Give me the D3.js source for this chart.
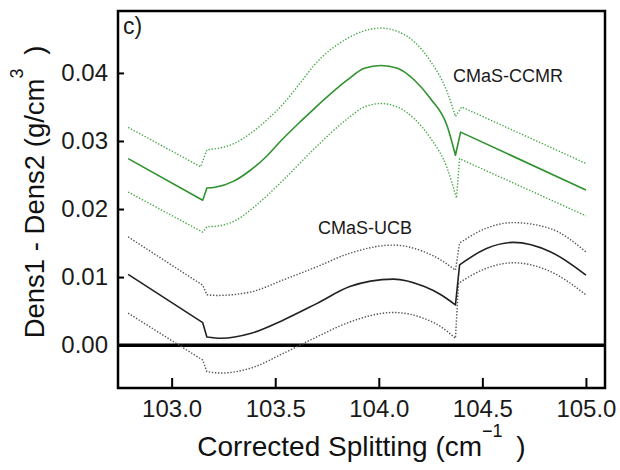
<!DOCTYPE html>
<html>
<head>
  <meta charset="UTF-8">
  <style>
  body { margin:0; background:#fff; }
  text { font-family:"Liberation Sans",Arial,sans-serif; }
  </style>
</head>
<body>
  <div id="chart"></div>
  <script src="https://d3js.org/d3.v7.min.js"></script>
  <script>
    // x positions + values, per series
    var ccmrX   = [102.79, 103.15, 103.17, 103.21, 103.30, 103.38, 103.46, 103.53, 103.62, 103.69, 103.85, 103.93, 104.01, 104.09, 104.17, 104.25, 104.33, 104.37, 104.395, 105.0];
    var ccmrMid = [0.0274, 0.0213, 0.0231, 0.0232, 0.0241, 0.0257, 0.0278, 0.0301, 0.0328, 0.0348, 0.0390, 0.0407, 0.0411, 0.0407, 0.0390, 0.0362, 0.0322, 0.0279, 0.0313, 0.0228];

    var ccmrHiX = [102.79, 103.14, 103.17, 103.22, 103.30, 103.38, 103.46, 103.54, 103.62, 103.69, 103.85, 103.93, 104.01, 104.09, 104.17, 104.25, 104.33, 104.37, 104.40, 105.0];
    var ccmrHi  = [0.0320, 0.0262, 0.0287, 0.0289, 0.0296, 0.0311, 0.0331, 0.0355, 0.0385, 0.0412, 0.0451, 0.0462, 0.0466, 0.0461, 0.0446, 0.0417, 0.0372, 0.0336, 0.0350, 0.0267];

    var ccmrLoX = [102.79, 103.15, 103.17, 103.22, 103.30, 103.41, 103.53, 103.69, 103.85, 103.93, 104.01, 104.09, 104.17, 104.25, 104.33, 104.375, 104.39, 105.0];
    var ccmrLo  = [0.0225, 0.0166, 0.0174, 0.0175, 0.0182, 0.0206, 0.0240, 0.0289, 0.0333, 0.0350, 0.0355, 0.0350, 0.0333, 0.0304, 0.0260, 0.0216, 0.0274, 0.0190];

    var ucbX   = [102.79, 103.15, 103.17, 103.24, 103.38, 103.54, 103.70, 103.86, 103.96, 104.07, 104.22, 104.30, 104.37, 104.39, 104.52, 104.65, 104.83, 105.0];
    var ucbMid = [0.0104, 0.0033, 0.0012, 0.0010, 0.0017, 0.0037, 0.0061, 0.0086, 0.0094, 0.0097, 0.0086, 0.0074, 0.0059, 0.0118, 0.0142, 0.0151, 0.0137, 0.0103];

    var ucbHiX = [102.79, 103.15, 103.17, 103.22, 103.38, 103.54, 103.70, 103.86, 104.07, 104.22, 104.30, 104.37, 104.39, 104.52, 104.65, 104.83, 105.0];
    var ucbHi  = [0.0159, 0.0088, 0.0074, 0.0073, 0.0078, 0.0096, 0.0115, 0.0135, 0.0147, 0.0137, 0.0125, 0.0110, 0.0150, 0.0172, 0.0180, 0.0171, 0.0137];

    var ucbLoX = [102.79, 103.15, 103.17, 103.24, 103.38, 103.54, 103.70, 103.86, 104.07, 104.22, 104.30, 104.37, 104.385, 104.52, 104.65, 104.83, 105.0];
    var ucbLo  = [0.0047, -0.0022, -0.0039, -0.0041, -0.0034, -0.0012, 0.0012, 0.0034, 0.0048, 0.0039, 0.0027, 0.0010, 0.0091, 0.0113, 0.0121, 0.0108, 0.0074];

    var xTicks = [103.0, 103.5, 104.0, 104.5, 105.0];
    var yTicks = [0.00, 0.01, 0.02, 0.03, 0.04];

    var svg = d3.select("#chart").append("svg")
        .attr("width", 620)
        .attr("height", 470),
      margin = { top: 11, right: 15, bottom: 82, left: 118 },
      width = 620 - margin.left - margin.right,
      height = 470 - margin.top - margin.bottom,
      g = svg.append("g").attr("transform", "translate(" + margin.left + "," + margin.top + ")");

    var x = d3.scaleLinear().domain([102.741, 105.092]).range([0, width]);
    var y = d3.scaleLinear().domain([-0.0063, 0.0491]).range([height, 0]);

    var line = d3.line()
      .x(function(d) { return x(d[0]); })
      .y(function(d) { return y(d[1]); })
      .curve(d3.curveMonotoneX);

    // smooth pieces, joined by straight steps where the curves jump
    function segPath(xs, ys) {
      var segs = [[]];
      xs.forEach(function(v, i) {
        if (i > 0 && v - xs[i - 1] < 0.035) segs.push([]);
        segs[segs.length - 1].push([v, ys[i]]);
      });
      return segs.map(function(s, i) {
        var d = line(s);
        return i ? "L" + d.slice(1) : d;
      }).join("");
    }

    // zero line
    g.append("line")
      .attr("x1", 0).attr("x2", width)
      .attr("y1", y(0)).attr("y2", y(0))
      .attr("stroke", "#000").attr("stroke-width", 3.5);

    var series = [
      { xs: ccmrHiX, ys: ccmrHi, c: "#4aa84a", dash: true },
      { xs: ccmrLoX, ys: ccmrLo, c: "#4aa84a", dash: true },
      { xs: ccmrX, ys: ccmrMid, c: "#2f922f", dash: false },
      { xs: ucbHiX, ys: ucbHi, c: "#555", dash: true },
      { xs: ucbLoX, ys: ucbLo, c: "#555", dash: true },
      { xs: ucbX, ys: ucbMid, c: "#222", dash: false }
    ];

    series.forEach(function(s) {
      g.append("path")
        .attr("fill", "none")
        .attr("stroke", s.c)
        .attr("stroke-width", s.dash ? 1.4 : 1.6)
        .attr("stroke-dasharray", s.dash ? "1.4,1.7" : null)
        .attr("stroke-linejoin", "round")
        .attr("d", segPath(s.xs, s.ys));
    });

    // axes, ticks point inward
    var xAxis = g.append("g")
      .attr("transform", "translate(0," + height + ")")
      .call(d3.axisBottom(x).tickValues(xTicks).tickFormat(d3.format(".1f"))
        .tickSizeInner(-10).tickSizeOuter(0).tickPadding(12));
    var yAxis = g.append("g")
      .call(d3.axisLeft(y).tickValues(yTicks).tickFormat(d3.format(".2f"))
        .tickSizeInner(-6).tickSizeOuter(0).tickPadding(10));

    [xAxis, yAxis].forEach(function(a) {
      a.select(".domain").remove();
      a.selectAll(".tick line").attr("stroke", "#000").attr("stroke-width", 2);
      a.selectAll(".tick text").attr("fill", "#1a1a1a").style("font-size", "24px")
        .style("font-family", "'Liberation Sans',Arial,sans-serif");
    });

    // frame
    g.append("rect")
      .attr("width", width).attr("height", height)
      .attr("fill", "none").attr("stroke", "#000").attr("stroke-width", 2.5);

    g.append("text").attr("x", 5).attr("y", 23)
      .style("font-size", "23px").attr("fill", "#1a1a1a").text("c)");

    svg.append("text").attr("x", 453).attr("y", 82)
      .style("font-size", "18px").attr("fill", "#1a1a1a").text("CMaS-CCMR");

    svg.append("text").attr("x", 318).attr("y", 234)
      .style("font-size", "18px").attr("fill", "#1a1a1a").text("CMaS-UCB");

    // axis titles
    var xt = svg.append("text")
      .attr("x", margin.left + width / 2).attr("y", 456)
      .attr("text-anchor", "middle")
      .style("font-size", "28px").attr("fill", "#111");
    xt.append("tspan").text("Corrected Splitting (cm");
    xt.append("tspan").attr("dy", -19).style("font-size", "18px").text("\u22121");
    xt.append("tspan").attr("dy", 19).attr("dx", 6).text(" )");

    var yt = svg.append("text")
      .attr("transform", "translate(44,192) rotate(-90)")
      .attr("text-anchor", "middle")
      .style("font-size", "27.5px").attr("fill", "#111");
    yt.append("tspan").text("Dens1 - Dens2 (g/cm");
    yt.append("tspan").attr("dy", -21).style("font-size", "18px").text("3");
    yt.append("tspan").attr("dy", 21).attr("dx", 6).text(" )");
  </script>
</body>
</html>
